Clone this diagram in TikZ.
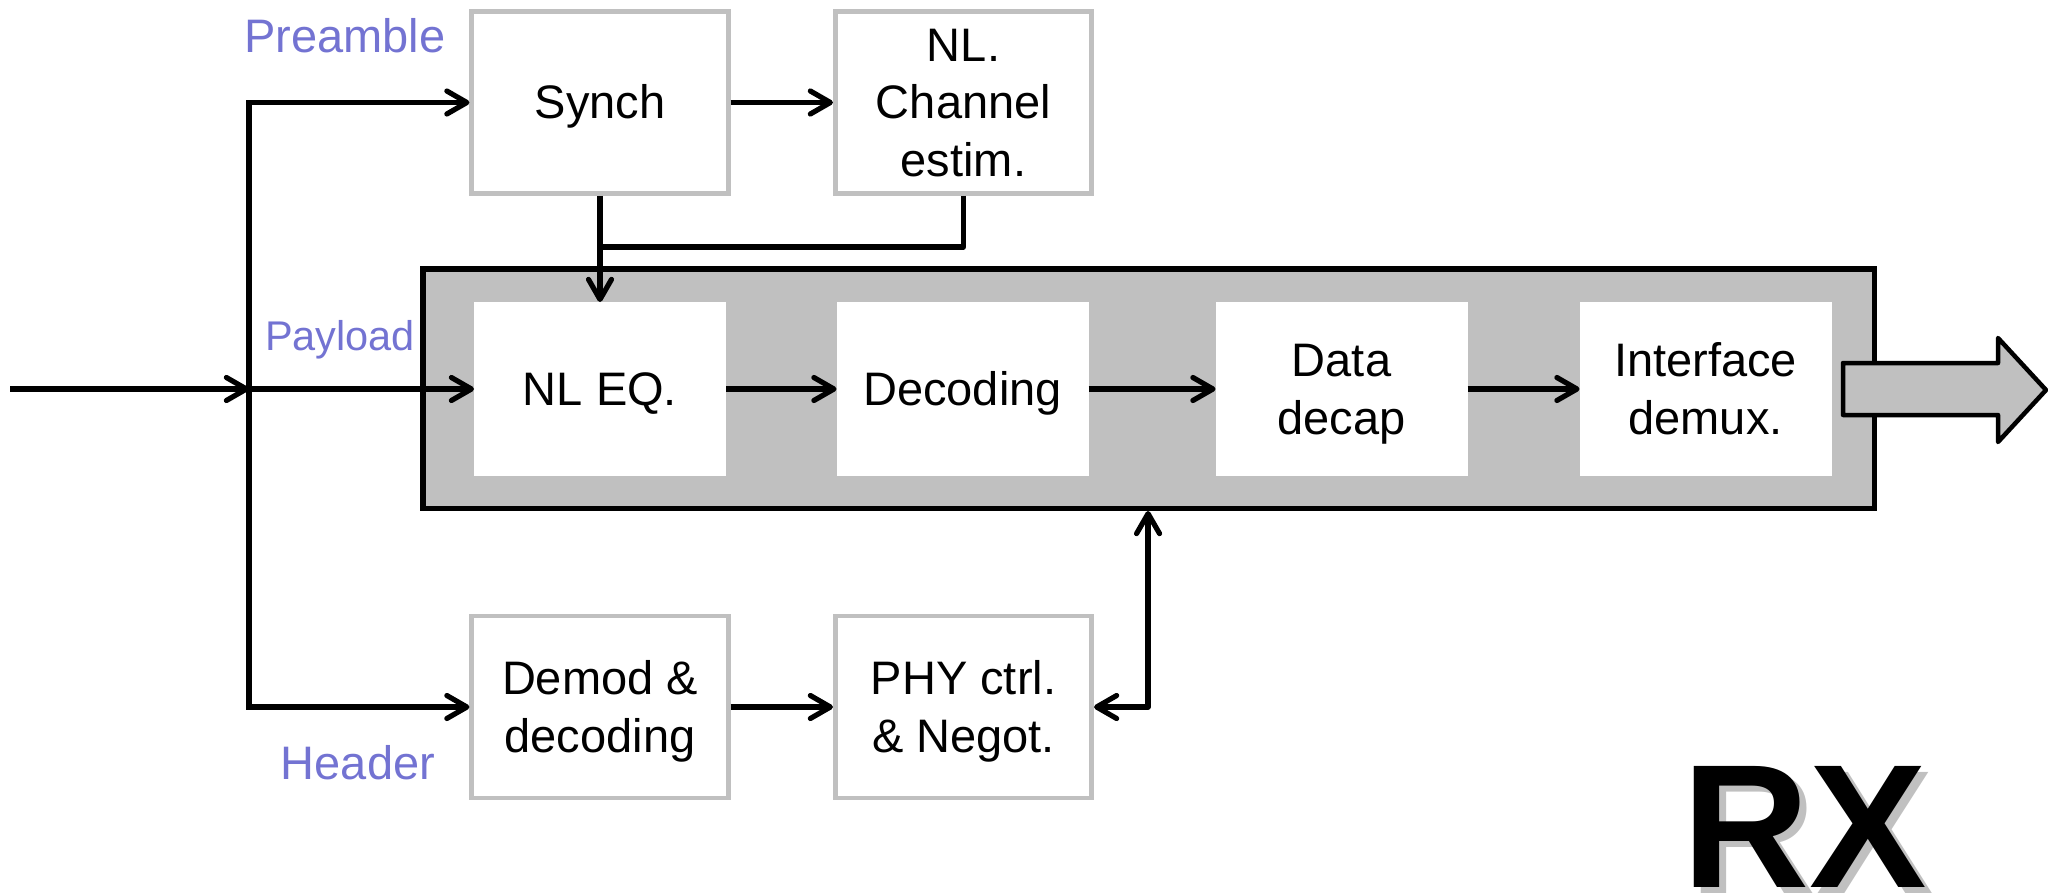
\documentclass[tikz,border=0pt]{standalone}
\usepackage{fontspec}
\setmainfont{Liberation Sans}
\usetikzlibrary{arrows.meta,calc}
\definecolor{silver}{RGB}{192,192,192}
\definecolor{lblue}{RGB}{115,115,210}
\newcommand{\mystrut}{\rule[-0.212em]{0pt}{1.117em}}
\begin{document}
\begin{tikzpicture}[x=0.5pt,y=-0.5pt,
  boxfont/.style={font=\fontsize{23.5}{28.75}\selectfont},
  graybox/.style={boxfont,draw=silver,line width=2.35pt,fill=white,minimum width=128.2pt,minimum height=91pt,align=center,inner sep=0pt},
  innerbox/.style={boxfont,fill=white,minimum width=126pt,minimum height=87pt,align=center,inner sep=0pt,outer sep=0pt},
  bigbox/.style={draw=black,fill=silver,line width=2.75pt,minimum width=725.75pt,minimum height=119.75pt,inner sep=0pt},
  lbl/.style={text=lblue,inner sep=0pt,anchor=base},
  conn/.style={line width=2.6pt,-{Straight Barb[length=10pt,width=11.5pt,round]}},
  dconn/.style={line width=2.6pt,line join=round,{Straight Barb[length=10pt,width=11.5pt,round]}-{Straight Barb[length=10pt,width=11.5pt,round]}},
  wire/.style={line width=2.6pt,line join=round}
]
\useasboundingbox (0,0) rectangle (2048,894);

% big grey frame
\node[bigbox] (big) at (1148.5,388.5) {};

% upper / lower grey boxes
\node[graybox] (synch) at (600,102.5) {\mystrut Synch};
\node[graybox] (chan) at (963.5,102.5) {\mystrut NL.\\\mystrut Channel\\\mystrut estim.};
\node[graybox] (demod) at (600,707) {\mystrut Demod \&\\\mystrut decoding};
\node[graybox] (phy) at (963.5,707) {\mystrut PHY ctrl.\\\mystrut \& Negot.};

% inner white boxes
\node[innerbox] (nleq) at (600,389) {\mystrut NL EQ.};
\node[innerbox] (dec) at (962.5,389) {\mystrut Decoding};
\node[innerbox] (data) at (1341.5,389) {\mystrut Data\\\mystrut decap};
\node[innerbox] (intf) at (1705.5,389) {\mystrut Interface\\\mystrut demux.};

% labels
\node[lbl,font=\fontsize{23.5}{28}\selectfont] (lpre) at (345,52) {Preamble};
\node[lbl,font=\fontsize{20.75}{25}\selectfont] (lpay) at (340,350) {Payload};
\node[lbl,font=\fontsize{23.5}{28}\selectfont] (lhead) at (358,779) {Header};

% connectors
\coordinate (in) at (10,389);
\coordinate (split) at (249,389);
\coordinate (jn) at (600,247);
\draw[conn] (in) -- (split);
\draw[conn] (split) -- (nleq.west);
\draw[conn] (split) |- (synch.west);
\draw[conn] (split) |- (demod.west);
\draw[conn] (synch.east) -- (chan.west);
\draw[conn] (demod.east) -- (phy.west);
\draw[conn] (synch.south) -- (synch.south |- nleq.north);
\draw[wire] (chan.south) |- (jn);
\draw[conn] (nleq.east) -- (dec.west);
\draw[conn] (dec.east) -- (data.west);
\draw[conn] (data.east) -- (intf.west);
\draw[dconn] (phy.east) -| ([xshift=27pt]phy.east |- big.south);

% output block arrow
\draw[line width=2.25pt,line join=round,fill=silver]
  (1843,363) -- (1998,363) -- (1998,338) -- (2046,390) -- (1998,442) -- (1998,415) -- (1843,415) -- cycle;

% RX
\node[anchor=base west,inner sep=0pt,text=silver,font=\fontsize{88}{88}\bfseries\selectfont] (rxs) at (1689,893) {RX};
\node[anchor=base west,inner sep=0pt,font=\fontsize{88}{88}\bfseries\selectfont] (rx) at (1682,887) {RX};
\end{tikzpicture}
\end{document}
